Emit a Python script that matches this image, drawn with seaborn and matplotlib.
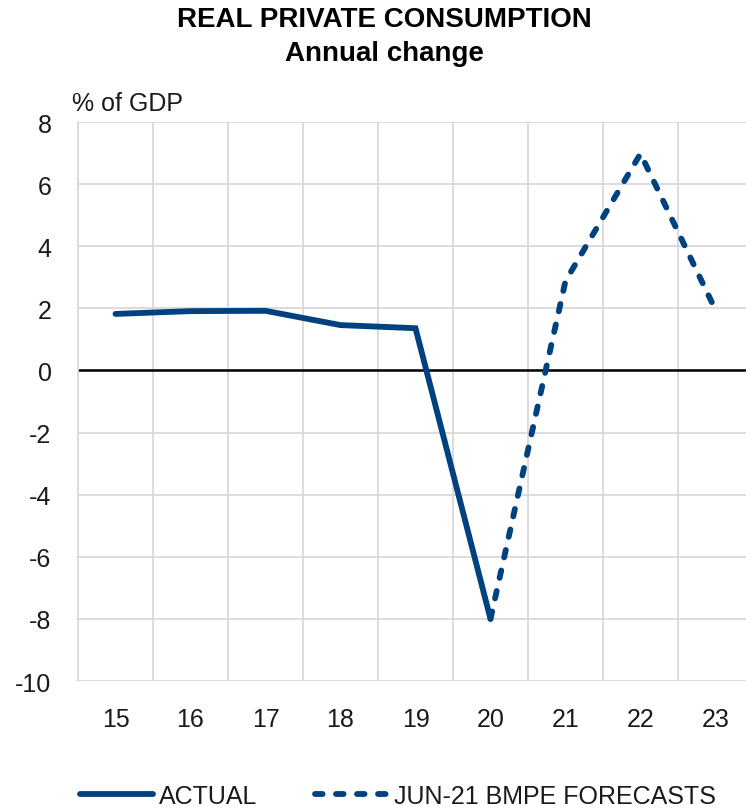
import matplotlib
matplotlib.use("Agg")
import matplotlib.pyplot as plt
import seaborn as sns
import pandas as pd
import numpy as np

years = ["15", "16", "17", "18", "19", "20", "21", "22", "23"]
actual_years = ["15", "16", "17", "18", "19", "20"]
actual_values = [1.82, 1.91, 1.92, 1.46, 1.36, -8.0]
forecast_years = ["20", "21", "22", "23"]
forecast_values = [-8.0, 2.88, 6.98, 1.95]
yticks = [-10, -8, -6, -4, -2, 0, 2, 4, 6, 8]

sns.set_theme(style="white")
plt.rcParams["font.family"] = ["Liberation Sans", "DejaVu Sans"]

color = "#00427f"
pos = {y: i for i, y in enumerate(years)}
df_a = pd.DataFrame({"x": [pos[y] for y in actual_years], "v": actual_values})
df_f = pd.DataFrame({"x": [pos[y] for y in forecast_years], "v": forecast_values})

fig = plt.figure(figsize=(7.46, 8.12), dpi=100)
ax = fig.add_axes([78 / 746, 130 / 812, 675 / 746, 559 / 812])

ax.set_xlim(-0.5, len(years) - 0.5)
ax.set_ylim(-10, 8)
ax.set_yticks(yticks)
ax.set_yticklabels([str(t) for t in yticks])
ax.set_xticks(range(len(years)))
ax.set_xticklabels(years)
ax.set_xticks(np.arange(0.5, len(years) - 0.5, 1.0), minor=True)

ax.grid(False)
ax.grid(axis="y", which="major", color="#d9d9d9", linewidth=1.3)
ax.grid(axis="x", which="minor", color="#d9d9d9", linewidth=1.3)
ax.set_axisbelow(True)
for s in ["top", "right", "bottom"]:
    ax.spines[s].set_visible(False)
ax.spines["left"].set_color("#d9d9d9")
ax.spines["left"].set_linewidth(1.3)
ax.tick_params(axis="both", which="both", length=0, labelsize=18, colors="#1a1a1a")
ax.tick_params(axis="x", pad=19)
ax.tick_params(axis="y", pad=19)
ax.axhline(0, color="black", linewidth=1.8, zorder=2)

lw = 4.2
sns.lineplot(data=df_a, x="x", y="v", ax=ax, color=color, linewidth=lw,
             label="ACTUAL", solid_capstyle="round", solid_joinstyle="miter", zorder=3)
sns.lineplot(data=df_f, x="x", y="v", ax=ax, color=color, linewidth=lw,
             label="JUN-21 BMPE FORECASTS", linestyle=(0, (1.3, 2.3)),
             dash_capstyle="round", zorder=3)
ax.set_xlabel("")
ax.set_ylabel("")

ax.legend_.remove()
handles, labels = ax.get_legend_handles_labels()
leg = fig.legend(handles, labels, loc="center", ncol=2,
                 bbox_to_anchor=(398 / 746, 1 - 797 / 812), frameon=False,
                 fontsize=18, handlelength=2.9, handletextpad=0.25,
                 columnspacing=2.3)
for t in leg.get_texts():
    t.set_color("#1a1a1a")

fig.text(384 / 746, 1 - 20 / 812, "REAL PRIVATE CONSUMPTION", ha="center", va="center",
         fontsize=20, fontweight="bold", color="black")
fig.text(384 / 746, 1 - 54 / 812, "Annual change", ha="center", va="center",
         fontsize=20, fontweight="bold", color="black")
fig.text(72 / 746, 1 - 104 / 812, "% of GDP", ha="left", va="center",
         fontsize=18, color="#1a1a1a")

fig.savefig("out.png", dpi=100)
